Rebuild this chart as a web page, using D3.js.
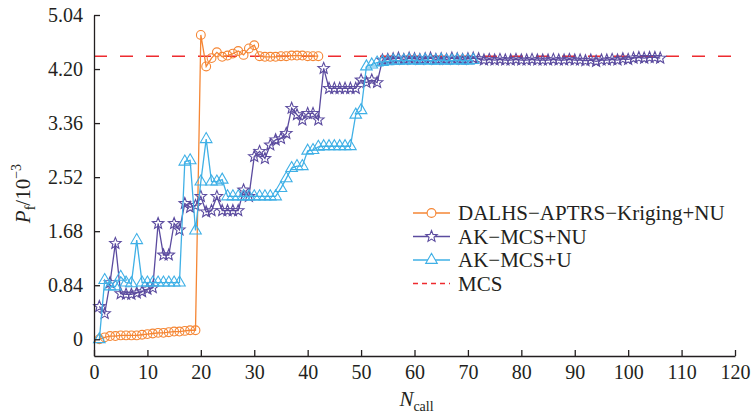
<!DOCTYPE html>
<html>
<head>
<meta charset="utf-8">
<script src="https://cdn.jsdelivr.net/npm/d3@7"></script>
<style>
body { margin: 0; background: #fff; }
</style>
</head>
<body>
<script>
var margin = {top: 15, right: 17, bottom: 61, left: 94}
  , width = 752 - margin.left - margin.right
  , height = 417 - margin.top - margin.bottom;

var serifFont = "'Liberation Serif', 'Times New Roman', 'DejaVu Serif', serif";

// N_call of the first point in each series
var callStart = 1;
var xTicks = [0, 10, 20, 30, 40, 50, 60, 70, 80, 90, 100, 110, 120];
var yTicks = [0, 0.84, 1.68, 2.52, 3.36, 4.20, 5.04];
var mcsValue = 4.40;

var dalhsNU = [0, 0.03, 0.05, 0.05, 0.06, 0.06, 0.06, 0.06, 0.07, 0.08,
    0.09, 0.10, 0.10, 0.11, 0.12, 0.12, 0.13, 0.14, 0.14,
    4.73, 4.24, 4.37, 4.46, 4.39, 4.41, 4.44, 4.48, 4.42, 4.52, 4.57,
    4.40, 4.39, 4.39, 4.39, 4.40, 4.40, 4.41, 4.41, 4.41, 4.40, 4.40, 4.40];

var akmcsNU = [0.51, 0.40, 0.88, 1.49, 0.71, 0.70, 0.70, 0.72, 0.74, 0.78,
    0.80, 1.80, 1.31, 1.31, 1.80, 1.70, 2.11, 2.05, 2.08, 2.22,
    1.98, 2.00, 2.22, 2.00, 2.00, 2.00, 2.00, 2.32, 2.22, 2.84,
    2.92, 2.81, 3.02, 3.10, 3.12, 3.20, 3.59, 3.49, 3.41, 3.51,
    3.51, 3.41, 4.21, 3.90, 3.90, 3.90, 3.90, 3.90, 3.90, 4.03,
    3.99, 4.03, 3.99, 4.34, 4.35, 4.36, 4.37, 4.35, 4.37, 4.36,
    4.35, 4.36, 4.37, 4.35, 4.36, 4.35, 4.37, 4.36, 4.35, 4.36,
    4.37, 4.36, 4.34, 4.35, 4.34, 4.35, 4.34, 4.34, 4.35, 4.34,
    4.34, 4.35, 4.34, 4.34, 4.34, 4.35, 4.34, 4.34, 4.35, 4.34,
    4.34, 4.33, 4.34, 4.32, 4.34, 4.34, 4.35, 4.34, 4.36, 4.35,
    4.37, 4.38, 4.37, 4.38, 4.38, 4.37];

var akmcsU = [0.00, 0.92, 0.82, 0.82, 0.97, 0.88, 0.87, 1.54, 0.88, 0.88,
    0.88, 0.88, 0.88, 0.88, 0.88, 0.88, 2.76, 2.78, 1.69, 2.45,
    3.11, 2.45, 2.45, 2.48, 2.22, 2.22, 2.22, 2.22, 2.22, 2.22,
    2.22, 2.22, 2.22, 2.22, 2.35, 2.50, 2.66, 2.69, 2.69, 2.93,
    2.94, 2.99, 3.00, 3.00, 3.00, 3.00, 3.00, 3.00, 3.49, 3.56,
    4.24, 4.27, 4.30, 4.31, 4.32, 4.33, 4.33, 4.33, 4.34, 4.33,
    4.33, 4.34, 4.33, 4.33, 4.34, 4.33, 4.33, 4.34, 4.33, 4.33, 4.34];

var seriesNames = ["DALHS\u2212APTRS\u2212Kriging+NU", "AK\u2212MCS+NU", "AK\u2212MCS+U", "MCS"];
var seriesColors = ["#f58634", "#5b4b9f", "#3fb0e6", "#ee2b2f"];

var svg = d3.select("body").append("svg")
    .attr("width", width + margin.left + margin.right)
    .attr("height", height + margin.top + margin.bottom)
    .append("g")
    .attr("transform", "translate(" + margin.left + "," + margin.top + ")");

var xScale = d3.scaleLinear().domain([0, 120]).range([0, width]);
var yScale = d3.scaleLinear().domain([-0.26, 5.04]).range([height, 0]);

// marker shapes
var starPath = (function() {
    var pts = [];
    for (var k = 0; k < 10; k++) {
        var r = k % 2 === 0 ? 6 : 2.6;
        var a = -Math.PI / 2 + k * Math.PI / 5;
        pts.push([r * Math.cos(a), r * Math.sin(a)]);
    }
    return "M" + pts.map(function(p) { return p[0].toFixed(2) + "," + p[1].toFixed(2); }).join("L") + "Z";
})();
var triPath = "M0,-6.6L5.8,3.4L-5.8,3.4Z";
var circlePath = d3.symbol().type(d3.symbolCircle).size(Math.PI * 4.4 * 4.4)();

var series = [
    {name: seriesNames[0], values: dalhsNU, color: seriesColors[0], marker: circlePath},
    {name: seriesNames[1], values: akmcsNU, color: seriesColors[1], marker: starPath},
    {name: seriesNames[2], values: akmcsU, color: seriesColors[2], marker: triPath}
];

// MCS reference line
svg.append("line")
    .attr("x1", xScale(0)).attr("x2", xScale(120))
    .attr("y1", yScale(mcsValue)).attr("y2", yScale(mcsValue))
    .attr("stroke", seriesColors[3])
    .attr("stroke-width", 1.4)
    .attr("stroke-dasharray", "13,13");

var line = d3.line()
    .x(function(d, i) { return xScale(callStart + i); })
    .y(function(d) { return yScale(d); });

series.forEach(function(s) {
    var g = svg.append("g");
    g.append("path")
        .attr("d", line(s.values))
        .attr("fill", "none")
        .attr("stroke", s.color)
        .attr("stroke-width", 1.3);
    g.selectAll("path.mk")
        .data(s.values)
        .enter().append("path")
        .attr("class", "mk")
        .attr("d", s.marker)
        .attr("transform", function(d, i) {
            return "translate(" + xScale(callStart + i) + "," + yScale(d) + ")";
        })
        .attr("fill", "none")
        .attr("stroke", s.color)
        .attr("stroke-width", 1.1);
});

// axes, ticks point inward
function styleAxis(g) {
    g.attr("font-family", serifFont).attr("font-size", 20);
    g.selectAll("path, line").attr("stroke", "#231f20").attr("stroke-width", 1.3);
    g.selectAll("text").attr("fill", "#231f20");
}

svg.append("g")
    .attr("transform", "translate(0," + height + ")")
    .call(d3.axisBottom(xScale).tickValues(xTicks).tickSizeInner(-6).tickSizeOuter(0).tickPadding(9))
    .call(styleAxis);

svg.append("g")
    .call(d3.axisLeft(yScale).tickValues(yTicks).tickSizeInner(-6).tickSizeOuter(0).tickPadding(11)
        .tickFormat(function(d) { return d === 0 ? "0" : d.toFixed(2); }))
    .call(styleAxis);

// axis titles
var yTitle = svg.append("text")
    .attr("text-anchor", "middle")
    .attr("transform", "translate(" + (-64) + "," + (height / 2 + 8) + ")rotate(-90)")
    .attr("font-family", serifFont)
    .attr("font-size", 21)
    .attr("fill", "#231f20");
yTitle.append("tspan").style("font-style", "italic").text("P");
yTitle.append("tspan").attr("dy", 5).attr("font-size", 14).text("f");
yTitle.append("tspan").attr("dy", -5).text("/10");
yTitle.append("tspan").attr("dy", -9).attr("font-size", 14).text("\u22123");

var xTitle = svg.append("text")
    .attr("text-anchor", "middle")
    .attr("x", width / 2 + 2)
    .attr("y", height + 50)
    .attr("font-family", serifFont)
    .attr("font-size", 21)
    .attr("fill", "#231f20");
xTitle.append("tspan").style("font-style", "italic").text("N");
xTitle.append("tspan").attr("dy", 5).attr("font-size", 14).text("call");

// legend
var legend = svg.append("g").attr("transform", "translate(" + (413 - margin.left) + "," + (213 - margin.top) + ")");
seriesNames.forEach(function(name, i) {
    var row = legend.append("g").attr("transform", "translate(0," + (i * 23.5) + ")");
    row.append("line")
        .attr("x1", 0).attr("x2", 37)
        .attr("stroke", seriesColors[i])
        .attr("stroke-width", 1.3)
        .attr("stroke-dasharray", i === 3 ? "5,4" : null);
    if (i < 3) {
        row.append("path")
            .attr("d", series[i].marker)
            .attr("transform", "translate(18.5,0)")
            .attr("fill", "#fff")
            .attr("stroke", seriesColors[i])
            .attr("stroke-width", 1.1);
    }
    row.append("text")
        .attr("x", 45)
        .attr("dy", "0.35em")
        .attr("font-family", serifFont)
        .attr("font-size", 21)
        .attr("fill", "#231f20")
        .text(name);
});
</script>
</body>
</html>
